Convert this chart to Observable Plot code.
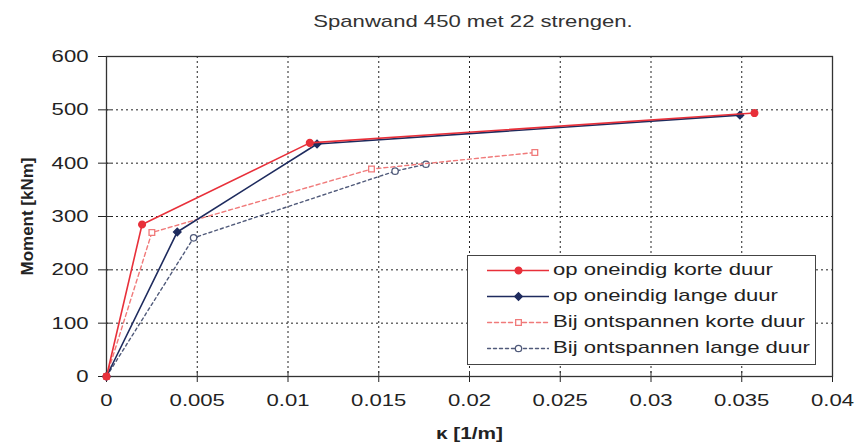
<!DOCTYPE html>
<html>
<head>
<meta charset="utf-8">
<script src="https://cdn.jsdelivr.net/npm/d3@7"></script>
<script src="https://cdn.jsdelivr.net/npm/@observablehq/plot@0.6"></script>
<style>
  html, body { margin: 0; padding: 0; background: #fff; }
  body { width: 862px; height: 445px; position: relative; overflow: hidden;
         font-family: "Liberation Sans", Arial, sans-serif; color: #222; }
  #title { height: 40px; position: relative; }
  #title span { position: absolute; left: 473px; top: 12px; white-space: nowrap;
                font-size: 17px; line-height: 20px; color: #333;
                transform: translateX(-50%) scaleX(1.3); transform-origin: center; }
  #legend { position: absolute; left: 467px; top: 255px; width: 349px; height: 110px;
            border: 1.3px solid #444; background: #fff; box-sizing: border-box; }
  .row { position: absolute; left: 0; height: 26px; width: 100%; }
  .row svg { position: absolute; left: 19px; top: 0; }
  .row span { position: absolute; left: 85px; top: 3px; font-size: 17px; line-height: 20px;
              white-space: nowrap; transform: scaleX(1.3); transform-origin: left center; color: #222; }
</style>
</head>
<body>
<div id="title"><span></span></div>
<div id="chart"></div>
<div id="legend"></div>
<script>
// ---- data ----
const titleText = "Spanwand 450 met 22 strengen.";
const xLabel = "κ [1/m]";
const yLabel = "Moment [kNm]";
const xTicks = [0, 0.005, 0.01, 0.015, 0.02, 0.025, 0.03, 0.035, 0.04];
const yTicks = [0, 100, 200, 300, 400, 500, 600];

const seriesNames = [
  "op oneindig korte duur",
  "op oneindig lange duur",
  "Bij ontspannen korte duur",
  "Bij ontspannen lange duur"
];
const kappaKortOneindig = [0, 0.00196, 0.0112, 0.0357];
const momentKortOneindig = [0, 285, 438, 494];
const kappaLangOneindig = [0, 0.0039, 0.0116, 0.0349];
const momentLangOneindig = [0, 271, 436, 490];
const kappaKortOntsp = [0, 0.0025, 0.0146, 0.0236];
const momentKortOntsp = [0, 270, 389, 420];
const kappaLangOntsp = [0, 0.0048, 0.0159, 0.0176];
const momentLangOntsp = [0, 260, 385, 398];

// ---- styles ----
const styles = [
  {stroke: "#e8303a", dash: null, width: 1.6, symbol: "circle", fill: "#e8303a", r: 3.4},
  {stroke: "#1e2b5e", dash: null, width: 1.6, symbol: "diamond2", fill: "#1e2b5e", r: 3.4},
  {stroke: "#f07a7a", dash: "4,3", width: 1.4, symbol: "square", fill: "none", r: 3.2},
  {stroke: "#505a7a", dash: "3,3", width: 1.4, symbol: "circle", fill: "none", r: 3.2}
];
const kappas = [kappaKortOneindig, kappaLangOneindig, kappaKortOntsp, kappaLangOntsp];
const moments = [momentKortOneindig, momentLangOneindig, momentKortOntsp, momentLangOntsp];
const series = seriesNames.map((name, s) =>
  kappas[s].map((k, i) => ({name, k, m: moments[s][i]})));

document.querySelector("#title span").textContent = titleText;

const lineMarks = [];
[3, 2, 1, 0].forEach(s => {
  const st = styles[s];
  lineMarks.push(Plot.line(series[s], {x: "k", y: "m", stroke: st.stroke,
    strokeWidth: st.width, strokeDasharray: st.dash}));
  lineMarks.push(Plot.dot(series[s], {x: "k", y: "m", symbol: () => st.symbol, r: st.r,
    stroke: st.stroke, fill: st.fill === "none" ? "white" : st.fill, strokeWidth: 1.3}));
});

const fmt = d => d === 0 ? "0" : String(+d.toFixed(3));

const chart = Plot.plot({
  width: 862,
  height: 405,
  marginTop: 16,
  marginBottom: 69,
  marginLeft: 106,
  marginRight: 30,
  style: {fontFamily: "'Liberation Sans', Arial, sans-serif", fontSize: "17px", color: "#222", background: "white"},
  x: {domain: [0, 0.04], ticks: xTicks, tickFormat: fmt, tickSize: 6, tickPadding: 11,
      label: xLabel, labelAnchor: "center", labelOffset: 62, labelArrow: "none"},
  y: {domain: [0, 600], ticks: yTicks, tickSize: 8, tickPadding: 10,
      label: yLabel, labelAnchor: "center", labelOffset: 86, labelArrow: "none"},
  marks: [
    Plot.ruleX(xTicks.filter(d => d > 0 && d < 0.04), {stroke: "#222", strokeDasharray: "2,3", strokeWidth: 1}),
    Plot.ruleY(yTicks.filter(d => d > 0 && d < 600), {stroke: "#222", strokeDasharray: "2,3", strokeWidth: 1}),
    Plot.ruleX(xTicks, {y1: 0, y2: 0, insetTop: -5, insetBottom: 0, stroke: "#333"}),
    Plot.ruleY(yTicks, {x1: 0, x2: 0, insetLeft: 0, insetRight: -5, stroke: "#333"}),
    Plot.frame({stroke: "#333", strokeWidth: 1.3}),
    ...lineMarks
  ]
});
document.getElementById("chart").appendChild(chart);

// tidy axis labels and stretch horizontal text
chart.querySelectorAll("text").forEach(t => {
  let s = t.textContent;
  const clean = s.replace(/[↑→←↓]/g, "").trim();
  if (clean === yLabel || clean === xLabel) {
    t.textContent = clean;
    t.setAttribute("font-weight", "bold");
    t.setAttribute("font-size", clean === yLabel ? "17px" : "16px");
    if (clean === yLabel) return;
  }
  const len = t.getComputedTextLength();
  if (len > 0) {
    t.setAttribute("textLength", (len * 1.3).toFixed(1));
    t.setAttribute("lengthAdjust", "spacingAndGlyphs");
  }
});

// legend
const legend = document.getElementById("legend");
seriesNames.forEach((name, s) => {
  const st = styles[s];
  const row = document.createElement("div");
  row.className = "row";
  row.style.top = (1 + s * 26) + "px";
  const mini = Plot.plot({
    width: 62, height: 26, margin: 0, axis: null,
    x: {domain: [0, 2]}, y: {domain: [0, 1]},
    marks: [
      Plot.line([{k: 0, m: 0.5}, {k: 2, m: 0.5}], {x: "k", y: "m", stroke: st.stroke,
        strokeWidth: st.width, strokeDasharray: st.dash}),
      Plot.dot([{k: 1, m: 0.5}], {x: "k", y: "m", symbol: () => st.symbol, r: st.r,
        stroke: st.stroke, fill: st.fill === "none" ? "white" : st.fill, strokeWidth: 1.3})
    ]
  });
  row.appendChild(mini);
  const label = document.createElement("span");
  label.textContent = name;
  row.appendChild(label);
  legend.appendChild(row);
});
</script>
</body>
</html>
